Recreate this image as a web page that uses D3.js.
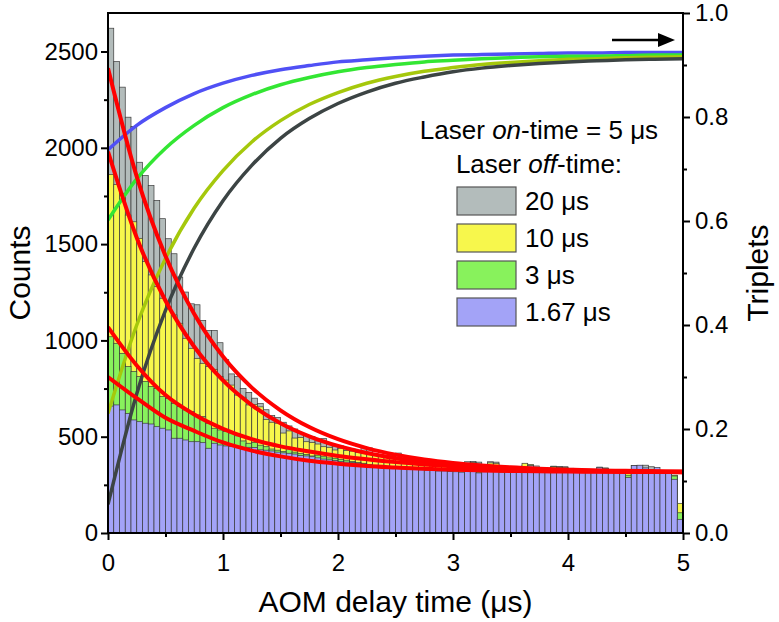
<!DOCTYPE html>
<html><head><meta charset="utf-8">
<script src="https://cdn.jsdelivr.net/npm/d3@7"></script>
<style>
body{margin:0;background:#fff}
svg{display:block}
text{font-family:"Liberation Sans",Arial,Helvetica,sans-serif;fill:#000}
</style>
</head><body>
<svg id="c" width="779" height="622"></svg>
<script>
// ---------- data ----------
const binWidth = 0.05;
const binIndex = d3.range(100);              // 100 histogram bins, 0 … 5 µs
const xTicks = [0,1,2,3,4,5];
const xMinor = [0.5,1.5,2.5,3.5,4.5];
const countTicks = [0,500,1000,1500,2000,2500];
const countMinor = [250,750,1250,1750,2250];
const tripTicks = [0,0.2,0.4,0.6,0.8,1.0];
const tripMinor = [0.1,0.3,0.5,0.7,0.9];

const seriesNames = ["20 μs","10 μs","3 μs","1.67 μs"];

const countsGray = [2621,2448,2315,2159,2111,1925,1856,1804,1727,1632,1528,1450,1329,1251,1190,1185,1104,1052,1052,988,
900,826,812,751,730,700,672,640,610,600,575,556,540,520,505,500,478,490,462,448,
452,440,436,428,448,442,412,404,400,398,415,400,388,380,376,365,358,354,350,345,
328,332,370,372,368,322,370,368,326,322,320,318,352,350,348,320,318,347,346,344,
322,320,316,318,320,322,320,318,316,318,312,350,348,352,344,322,318,316,300,140];

const countsYellow = [1862,1810,1764,1651,1616,1530,1409,1340,1279,1219,1175,1132,1089,1011,959,907,881,864,850,812,
794,768,716,705,665,668,655,590,575,570,519,530,493,496,474,470,462,448,445,431,
440,428,425,418,412,410,405,400,398,402,392,385,383,378,376,356,352,350,346,342,
330,326,362,366,358,320,364,362,324,320,318,322,362,356,340,322,320,344,342,340,
336,322,318,316,320,322,318,320,316,318,312,320,322,318,316,320,318,314,300,154];

const countsGreen = [1019,985,933,864,838,812,786,760,751,708,699,673,656,639,630,613,604,570,544,535,
528,520,505,478,466,470,456,448,436,430,424,445,420,412,408,400,404,396,390,388,
382,378,372,366,362,356,352,350,346,344,340,336,335,333,330,328,326,324,322,320,
314,312,316,314,312,310,314,312,310,312,314,312,316,314,312,310,312,344,340,335,
312,310,314,312,310,342,338,312,310,312,300,314,316,312,310,314,312,310,296,105];

const countsBlue = [659,665,639,621,587,578,570,566,552,544,535,492,492,483,474,474,469,440,466,457,
452,450,446,440,445,444,432,430,426,420,416,414,410,402,400,396,390,384,380,376,
372,368,366,362,358,352,350,346,344,340,336,334,333,330,328,326,324,322,322,320,
318,316,322,330,312,318,322,320,316,318,314,316,332,350,320,318,316,322,320,318,
316,318,314,316,318,341,335,320,318,316,289,350,352,338,330,340,322,318,279,71];

// fitted decay curves (counts), sampled every 0.25 µs
const fitT = [0,0.25,0.5,0.75,1,1.25,1.5,1.75,2,2.25,2.5,2.75,3,3.25,3.5,3.75,4,4.25,4.5,4.75,5];
const fitGray   = [2413,1850,1438,1137,916,755,637,550,487,441,407,382,364,351,341,334,329,325,323,320,319];
const fitYellow = [1980,1533,1206,967,792,664,570,502,452,415,388,368,354,344,336,330,326,323,321,319,318];
const fitGreen  = [1069,870,716,615,541,487,450,423,400,383,368,356,346,338,332,327,323,320,318,317,316];
const fitBlue   = [810,700,598,530,470,428,398,375,360,348,340,333,328,325,322,320,319,318,317,317,316];

// triplet population curves (right axis)
const tripBlue  = [.737,.784,.818,.845,.865,.880,.891,.899,.906,.910,.914,.917,.919,.920,.921,.922,.923,.923,.924,.924,.924];
const tripGreen = [.602,.681,.740,.784,.818,.843,.862,.876,.887,.895,.901,.906,.909,.912,.914,.916,.917,.917,.918,.919,.919];
const tripYG    = [.230,.400,.528,.625,.697,.752,.793,.824,.847,.865,.878,.888,.895,.901,.905,.908,.911,.912,.914,.915,.916];
const tripDark  = [.055,.268,.428,.548,.639,.707,.759,.797,.826,.848,.865,.877,.887,.894,.899,.903,.906,.908,.910,.911,.912];

// ---------- styles ----------
const barColors = ["#b3bcbb","#f7f74c","#88f25c","#a3a3f7"];
const tripColors = ["#5050f5","#33e633","#a5c80c","#3c4444"];

// ---------- chart ----------
const svg = d3.select("#c");
const L = 108, R = 683, T = 13, B = 533;
const x = d3.scaleLinear([0,5],[L,R]);
const yL = d3.scaleLinear([0,2700],[B,T]);
const yR = d3.scaleLinear([0,1],[B,T]);

svg.append("clipPath").attr("id","plot").append("rect")
  .attr("x",L).attr("y",T).attr("width",R-L).attr("height",B-T);
const plot = svg.append("g").attr("clip-path","url(#plot)");

const hist = [countsGray,countsYellow,countsGreen,countsBlue];
hist.forEach((vals,k)=>{
  plot.append("g").selectAll("rect").data(binIndex).join("rect")
    .attr("x",i=>x(i*binWidth))
    .attr("width",x(binWidth)-x(0))
    .attr("y",i=>yL(vals[i]))
    .attr("height",i=>yL(0)-yL(vals[i]))
    .attr("fill",barColors[k])
    .attr("stroke","#3a3a3a").attr("stroke-width",0.7);
});

const tripLine = d3.line().x((d,i)=>x(fitT[i])).y(d=>yR(d)).curve(d3.curveMonotoneX);
[tripBlue,tripGreen,tripYG,tripDark].forEach((arr,k)=>{
  plot.append("path").attr("d",tripLine(arr)).attr("fill","none")
    .attr("stroke",tripColors[k]).attr("stroke-width",3.5);
});

const fitLine = d3.line().x((d,i)=>x(fitT[i])).y(d=>yL(d)).curve(d3.curveMonotoneX);
[fitGray,fitYellow,fitGreen,fitBlue].forEach(arr=>{
  plot.append("path").attr("d",fitLine(arr)).attr("fill","none")
    .attr("stroke","#ff0000").attr("stroke-width",4);
});

// ---------- axes ----------
const fs = 24;
function styleAxis(g){
  g.select(".domain").remove();
  g.selectAll(".tick line").attr("stroke","#000").attr("stroke-width",2);
  g.selectAll("text").attr("font-size",fs).attr("font-family",null);
}
svg.append("g").attr("transform",`translate(${L},0)`)
  .call(d3.axisLeft(yL).tickValues(countTicks).tickSize(7).tickPadding(3).tickFormat(d3.format("d"))).call(styleAxis);
svg.append("g").attr("transform",`translate(${L},0)`)
  .call(d3.axisLeft(yL).tickValues(countMinor).tickSize(4).tickFormat("")).call(styleAxis);
svg.append("g").attr("transform",`translate(${R},0)`)
  .call(d3.axisRight(yR).tickValues(tripTicks).tickSize(7).tickPadding(5).tickFormat(d3.format(".1f"))).call(styleAxis);
svg.append("g").attr("transform",`translate(${R},0)`)
  .call(d3.axisRight(yR).tickValues(tripMinor).tickSize(4).tickFormat("")).call(styleAxis);
svg.append("g").attr("transform",`translate(0,${B})`)
  .call(d3.axisBottom(x).tickValues(xTicks).tickSize(7).tickPadding(14).tickFormat(d3.format("d"))).call(styleAxis);
svg.append("g").attr("transform",`translate(0,${B})`)
  .call(d3.axisBottom(x).tickValues(xMinor).tickSize(4).tickFormat("")).call(styleAxis);

// frame
svg.append("path").attr("d",`M${L},${B+1}V${T}H${R}V${B+1}M${L-1},${B}H${R+1}`)
  .attr("fill","none").attr("stroke","#000").attr("stroke-width",2);

// axis titles
svg.append("text").attr("x",(L+R)/2).attr("y",612).attr("text-anchor","middle")
  .attr("font-size",30).text("AOM delay time (μs)");
svg.append("text").attr("transform",`translate(30,${(T+B)/2}) rotate(-90)`).attr("text-anchor","middle")
  .attr("font-size",30).text("Counts");
svg.append("text").attr("transform",`translate(768,${(T+B)/2}) rotate(-90)`).attr("text-anchor","middle")
  .attr("font-size",30).text("Triplets");

// legend
const lg = svg.append("g");
const t1 = lg.append("text").attr("x",539).attr("y",139).attr("text-anchor","middle").attr("font-size",26);
t1.append("tspan").text("Laser ");
t1.append("tspan").attr("font-style","italic").text("on");
t1.append("tspan").text("-time = 5 μs");
const t2 = lg.append("text").attr("x",539).attr("y",173).attr("text-anchor","middle").attr("font-size",26);
t2.append("tspan").text("Laser ");
t2.append("tspan").attr("font-style","italic").text("off");
t2.append("tspan").text("-time:");
const swY = [187,224,261,298];
seriesNames.forEach((n,k)=>{
  lg.append("rect").attr("x",457).attr("y",swY[k]).attr("width",59).attr("height",28)
    .attr("fill",barColors[k]).attr("stroke","#555").attr("stroke-width",1.2);
  lg.append("text").attr("x",525).attr("y",swY[k]+23).attr("font-size",26).text(n);
});

// arrow
svg.append("line").attr("x1",612).attr("y1",40).attr("x2",662).attr("y2",40)
  .attr("stroke","#000").attr("stroke-width",2.5);
svg.append("path").attr("d","M658,33L675,40L658,47Z").attr("fill","#000");
</script>
</body></html>
